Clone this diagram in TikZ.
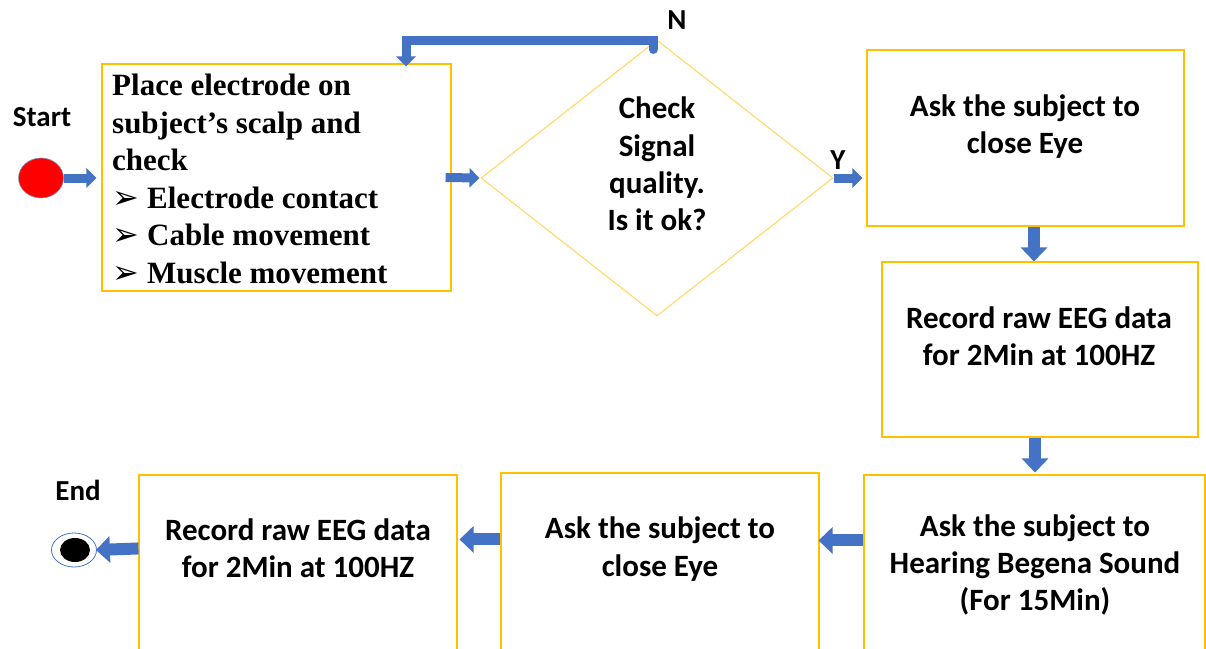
\documentclass[tikz,border=0pt]{standalone}
\usepackage{fontspec}
\setmainfont{Carlito}
\newfontfamily\tnr{Liberation Serif}
\newfontfamily\djv{DejaVu Sans}
\usetikzlibrary{arrows.meta,shapes.geometric,calc}
\definecolor{boxc}{HTML}{FFC000}
\definecolor{dmc}{HTML}{FFD966}
\definecolor{arrc}{HTML}{4472C4}
\definecolor{edgec}{HTML}{2F528F}
\newcommand{\bul}{\makebox[35pt][l]{\raisebox{0pt}[0pt][0pt]{\djv\fontsize{32}{32}\selectfont ➢}}}
\begin{document}
\begin{tikzpicture}[x=1pt,y=-1pt,
  box/.style={draw=boxc, line width=1.1pt, inner sep=0pt},
  txt/.style={font=\bfseries\fontsize{31}{37.3}\selectfont, align=center, inner sep=0pt},
  lbl/.style={font=\bfseries\fontsize{29}{34}\selectfont, inner sep=0pt},
  blks/.style={line width=9pt, draw=arrc, line join=miter, -{Triangle[length=10pt,width=19pt]}},
  blkb/.style={line width=12pt, draw=arrc, -{Triangle[length=14pt,width=26pt]}}]
\useasboundingbox (0,0) rectangle (1206,648);
\clip (0,0) rectangle (1206,648);
% boxes
\node[box, minimum width=349pt, minimum height=227pt] (b1) at (276.5,177.5) {};
\node[draw=dmc, line width=1.1pt, diamond, inner sep=0pt, minimum width=352pt, minimum height=276pt] (d) at (657,178) {};
\node[box, minimum width=317pt, minimum height=176pt] (b2) at (1025.5,138) {};
\node[box, minimum width=316pt, minimum height=175pt] (b3) at (1040,349.5) {};
\node[box, minimum width=341pt, minimum height=190pt] (b4) at (1034.5,570) {};
\node[box, minimum width=318pt, minimum height=190pt] (b5) at (660,568) {};
\node[box, minimum width=318pt, minimum height=190pt] (b6) at (298,570) {};
% texts
\node[txt, align=left, anchor=west, font=\tnr\bfseries\fontsize{31}{37.6}\selectfont] (t1) at (112,179)
  {Place electrode on\\subject’s scalp and\\check\\\bul Electrode contact\\\bul Cable movement\\\bul Muscle movement};
\node[txt] (td) at (657,164) {Check\\Signal\\quality.\\Is it ok?};
\node[txt] (t2) at (1025,126.5) {Ask the subject to\\close Eye};
\node[txt] (t3) at (1039,336) {Record raw EEG data\\for 2Min at 100HZ};
\node[txt] (t4) at (1035,565) {Ask the subject to\\Hearing Begena Sound\\(For 15Min)};
\node[txt] (t5) at (660,549) {Ask the subject to\\close Eye};
\node[txt] (t6) at (298,548) {Record raw EEG data\\for 2Min at 100HZ};
% start / end
\node[lbl] (ls) at (42,117) {Start};
\node[lbl] (le) at (78,490) {End};
\node[lbl] (ln) at (677,20) {N};
\node[lbl] (ly) at (838,160) {Y};
\node[ellipse, fill=red, draw=edgec!60, line width=0.6pt, minimum width=45pt, minimum height=40pt, inner sep=0pt] (st) at (41,178) {};
\node[ellipse, fill=white, draw=arrc, line width=0.8pt, minimum width=45pt, minimum height=34pt, inner sep=0pt] (en) at (74,550) {};
\node[ellipse, fill=black, minimum width=30pt, minimum height=24pt, inner sep=0pt] (enc) at (75,550) {};
% connectors
\draw[blks] (st.east) -- ($(b1.west)+(-5,0.5)$);
\draw[blks] ($(b1.east)+(-6,0)$) -- ($(d.west)+(-1,0)$);
\draw[blks] (d.east) -- ($(d.east -| b2.west)+(-4,0)$);
\draw[blks, line cap=round] ($(d.north)+(-4,10)$) |- ($(b1.north)+(129.5,-23)$) -- ($(b1.north)+(129.5,3)$);
\draw[blkb] ($(b2.south)+(8.5,0)$) -- ($(b3.north)+(-6,0)$);
\draw[blkb] ($(b3.south)+(-5,0)$) -- ($(b4.north)+(0.5,-2)$);
\draw[blkb] ($(b4.north west)+(0,66)$) -- ($(b5.north east)+(-1,68)$);
\draw[blkb] ($(b5.north west)+(0,67)$) -- ($(b6.north east)+(2,65)$);
\draw[blkb] ($(b6.north west)+(0,74)$) -- ($(en.east)+(-1,0)$);
\end{tikzpicture}
\end{document}
